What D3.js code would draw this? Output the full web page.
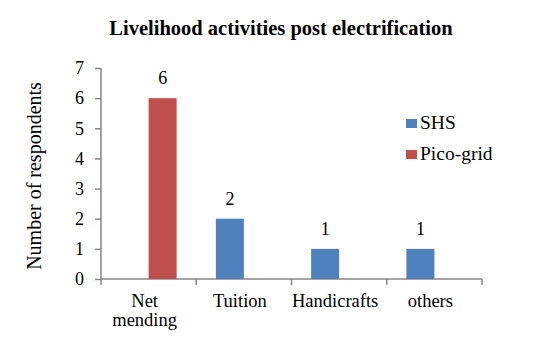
<!DOCTYPE html>
<html><head><meta charset="utf-8">
<script src="https://cdn.jsdelivr.net/npm/d3@7"></script>
<style>body{margin:0;background:#fff}svg{display:block}</style>
</head><body>
<script>
const categories = ["Net mending", "Tuition", "Handicrafts", "others"];
const seriesNames = ["SHS", "Pico-grid"];
const shsValues = [null, 2, 1, 1];
const picoValues = [6, null, null, null];
const yTicks = [0,1,2,3,4,5,6,7];
const colors = ["#4F81BD", "#C0504D"];
const FONT = "'Liberation Serif', 'Times New Roman', serif";

const W = 537, H = 347;
const svg = d3.select("body").append("svg").attr("width", W).attr("height", H);

const x = d3.scaleBand().domain(categories).range([101, 482]).paddingInner(0).paddingOuter(0);
const y = d3.scaleLinear().domain([0, 7]).range([279, 68]);
const sub = d3.scaleBand().domain(seriesNames).range([x.bandwidth()/2 - 28, x.bandwidth()/2 + 28]);

svg.append("text").attr("x", 281).attr("y", 35).attr("text-anchor", "middle")
  .style("font-family", FONT).style("font-size", "20.5px").style("font-weight", "bold")
  .text("Livelihood activities post electrification");

// y axis
const yAxis = svg.append("g").attr("transform", "translate(101,0)")
  .call(d3.axisLeft(y).tickValues(yTicks).tickSize(6).tickPadding(11).tickFormat(d3.format("d")));
yAxis.attr("font-family", FONT).attr("font-size", 18);
yAxis.selectAll("text").style("font-family", FONT).style("font-size", "18px").attr("fill", "#000");
yAxis.selectAll("line,path").attr("stroke", "#868686").attr("stroke-width", 1.5);
yAxis.select(".domain").attr("d", "M0,279V68");

// x axis
const xAxis = svg.append("g").attr("transform", "translate(0,279)");
xAxis.append("line").attr("x1", 101).attr("x2", 482).attr("stroke", "#868686").attr("stroke-width", 1.5);
const bounds = categories.map(c => x(c)).concat([x(categories[categories.length-1]) + x.bandwidth()]);
xAxis.selectAll(".xt").data(bounds).enter().append("line")
  .attr("x1", d => d).attr("x2", d => d).attr("y1", 0).attr("y2", 6)
  .attr("stroke", "#868686").attr("stroke-width", 1.5);

const labels = svg.append("g");
categories.forEach(c => {
  const cx = x(c) + x.bandwidth()/2;
  const parts = c === "Net mending" ? ["Net", "mending"] : [c];
  parts.forEach((p, i) => {
    labels.append("text").attr("x", cx - 4).attr("y", 307 + i*19).attr("text-anchor", "middle")
      .style("font-family", FONT).style("font-size", "18.5px").text(p);
  });
});

// bars
const data = [];
categories.forEach((c, i) => {
  [shsValues[i], picoValues[i]].forEach((v, j) => {
    if (v != null) data.push({cat: c, s: seriesNames[j], v, color: colors[j]});
  });
});
svg.selectAll(".bar").data(data).enter().append("rect")
  .attr("x", d => x(d.cat) + sub(d.s))
  .attr("width", sub.bandwidth())
  .attr("y", d => y(d.v))
  .attr("height", d => y(0) - y(d.v))
  .attr("fill", d => d.color);
svg.selectAll(".lbl").data(data).enter().append("text")
  .attr("x", d => x(d.cat) + sub(d.s) + sub.bandwidth()/2)
  .attr("y", d => y(d.v) - 14)
  .attr("text-anchor", "middle").style("font-family", FONT).style("font-size", "18px").text(d => d.v);

// y label
svg.append("text").attr("transform", "translate(41,176) rotate(-90)").attr("text-anchor", "middle")
  .style("font-family", FONT).style("font-size", "20px").text("Number of respondents");

// legend
const leg = svg.append("g");
seriesNames.forEach((s, i) => {
  const ly = 123 + i*31;
  leg.append("rect").attr("x", 406).attr("y", ly - 4).attr("width", 11).attr("height", 9).attr("fill", colors[i]);
  leg.append("text").attr("x", 420).attr("y", ly + 6).style("font-family", FONT).style("font-size", "19.5px").text(s);
});
</script>
</body></html>
